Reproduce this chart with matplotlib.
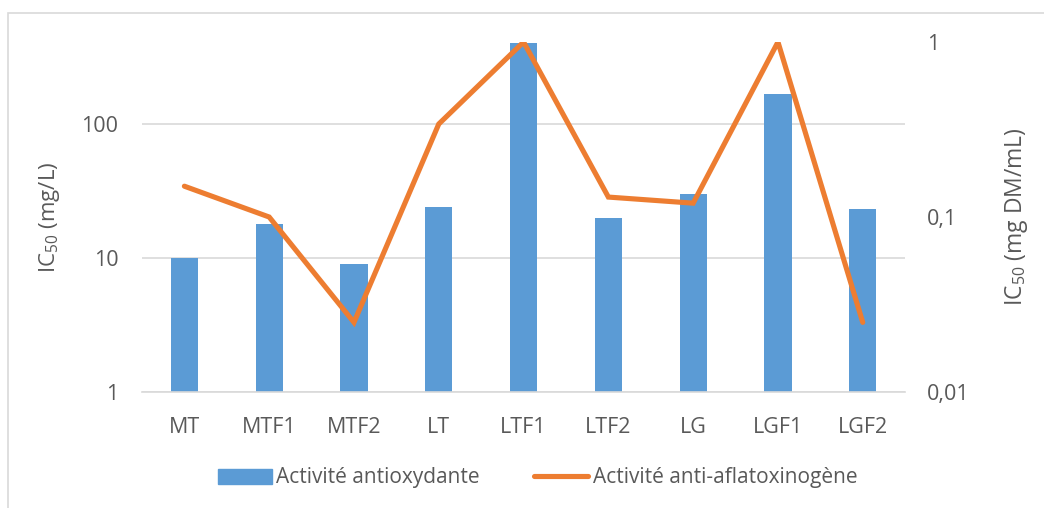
import matplotlib.pyplot as plt
from matplotlib.patches import Rectangle, Patch
from matplotlib.lines import Line2D

plt.rcParams['font.family'] = ['Open Sans', 'DejaVu Sans']
plt.rcParams['mathtext.fontset'] = 'custom'
plt.rcParams['mathtext.rm'] = 'Open Sans'
plt.rcParams['mathtext.it'] = 'Open Sans'

samples = ['MT', 'MTF1', 'MTF2', 'LT', 'LTF1', 'LTF2', 'LG', 'LGF1', 'LGF2']
antioxydante = [10, 18, 9, 24, 400, 20, 30, 167, 23]          # IC50 mg/L
anti_aflatoxinogene = [0.15, 0.1, 0.025, 0.34, 1, 0.13, 0.12, 1, 0.025]  # IC50 mg DM/mL

blue = '#5B9BD5'
orange = '#ED7D31'
grey_txt = '#595959'
grid_c = '#D9D9D9'

fig = plt.figure(figsize=(10.44, 5.08), dpi=100)
ax = fig.add_axes([0.136, 0.2283, 0.731, 0.689])

# outer chart border
fig.patches.append(Rectangle((8 / 1044, -0.1), 1.1, 1 - 13 / 508 + 0.1,
                             transform=fig.transFigure, fill=False,
                             edgecolor=grid_c, lw=1.2))

x = range(len(samples))
ax.bar(x, antioxydante, width=0.32, color=blue, log=True, zorder=2)
ax.set_yscale('log')
ax.set_ylim(1, 408)
ax.set_xlim(-0.5, len(samples) - 0.5)
ax.set_yticks([1, 10, 100])
ax.set_yticklabels(['1', '10', '100'])
ax.minorticks_off()
ax.set_xticks(list(x))
ax.set_xticklabels(samples)
ax.grid(axis='y', color=grid_c, lw=1.2, zorder=0)
for s in ['top', 'left', 'right']:
    ax.spines[s].set_visible(False)
ax.spines['bottom'].set_color(grid_c)
ax.spines['bottom'].set_linewidth(1.2)
ax.tick_params(axis='both', length=0, labelsize=15.5, colors=grey_txt)
ax.tick_params(axis='y', pad=17)
ax.tick_params(axis='x', pad=18)
ax.set_ylabel(r'IC$_{50}$ (mg/L)', fontsize=16, color=grey_txt, labelpad=14)

ax2 = ax.twinx()
ax2.plot(x, anti_aflatoxinogene, color=orange, lw=3.7, solid_joinstyle='miter',
         solid_capstyle='round')
ax2.set_yscale('log')
ax2.set_ylim(0.01, 1)
ax2.set_yticks([0.01, 0.1, 1])
ax2.set_yticklabels(['0,01', '0,1', '1'])
ax2.minorticks_off()
for s in ax2.spines.values():
    s.set_visible(False)
ax2.tick_params(axis='y', length=0, labelsize=15.5, colors=grey_txt, pad=16)
ax2.set_ylabel(r'IC$_{50}$ (mg DM/mL)', fontsize=16.5, color=grey_txt, labelpad=24)

handles = [Patch(color=blue), Line2D([], [], color=orange, lw=3.7, solid_capstyle='round')]
fig.legend(handles, ['Activité antioxydante', 'Activité anti-aflatoxinogène'],
           loc='center', bbox_to_anchor=(0.515, 1 - 478 / 508), ncol=2, frameon=False,
           fontsize=15, labelcolor=grey_txt, handlelength=2.6, handleheight=0.7,
           handletextpad=0.2, columnspacing=2.6)

fig.savefig('out.png', dpi=100)
